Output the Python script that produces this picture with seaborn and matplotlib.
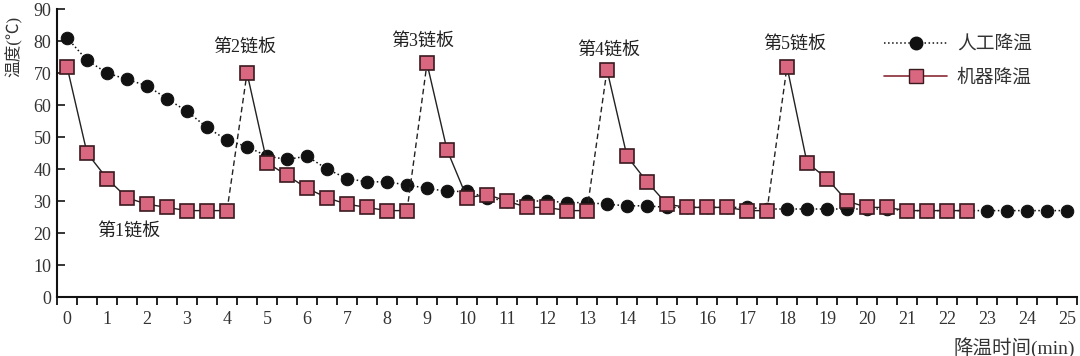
import numpy as np
import pandas as pd
import matplotlib
matplotlib.use("Agg")
import matplotlib.pyplot as plt
from matplotlib.lines import Line2D
import seaborn as sns

# time axis: every 0.5 min from 0 to 25
time = [i * 0.5 for i in range(51)]

manual = [81, 74, 70, 68, 66, 62, 58, 53, 49, 47,
          44, 43, 44, 40, 37, 36, 36, 35, 34, 33,
          33, 31, 30, 30, 30, 29.5, 29.5, 29, 28.5, 28.5,
          28, 28, 28, 28, 28, 27.5, 27.5, 27.5, 27.5, 27.5,
          27.5, 27.5, 27, 27, 27, 27, 27, 27, 27, 27, 27]

# machine cooling, one list per chain board
board_time = [
    [0, 0.5, 1, 1.5, 2, 2.5, 3, 3.5, 4],
    [4.5, 5, 5.5, 6, 6.5, 7, 7.5, 8, 8.5],
    [9, 9.5, 10, 10.5, 11, 11.5, 12, 12.5, 13],
    [13.5, 14, 14.5, 15, 15.5, 16, 16.5, 17, 17.5],
    [18, 18.5, 19, 19.5, 20, 20.5, 21, 21.5, 22, 22.5],
]
board_temp = [
    [72, 45, 37, 31, 29, 28, 27, 27, 27],
    [70, 42, 38, 34, 31, 29, 28, 27, 27],
    [73, 46, 31, 32, 30, 28, 28, 27, 27],
    [71, 44, 36, 29, 28, 28, 28, 27, 27],
    [72, 42, 37, 30, 28, 28, 27, 27, 27, 27],
]
board_labels = ["第1链板", "第2链板", "第3链板", "第4链板", "第5链板"]
label_pos = [(1.55, 20.5), (4.45, 78), (8.9, 80), (13.55, 77), (18.2, 79)]

xtick_labels = [str(i) for i in range(26)]

df_manual = pd.DataFrame({"t": time, "T": manual})
df_machine = pd.DataFrame({
    "t": sum(board_time, []),
    "T": sum(board_temp, []),
    "board": sum([[i] * len(b) for i, b in enumerate(board_time)], []),
})

sns.set_theme(style="ticks")
plt.rcParams["font.family"] = ["Liberation Serif", "Noto Sans CJK SC"]
plt.rcParams["axes.unicode_minus"] = False

fig = plt.figure(figsize=(10.8, 3.56), dpi=100)
ax = fig.add_axes([0.0528, 0.1657, 0.9444, 0.809])

sns.lineplot(data=df_manual, x="t", y="T", ax=ax, color="#111111",
             linestyle=":", linewidth=1.1, marker="o", markersize=9,
             markeredgecolor="#111111", markerfacecolor="#111111", zorder=2)

# dashed jumps between chain boards
for i in range(len(board_time) - 1):
    ax.plot([board_time[i][-1], board_time[i + 1][0]],
            [board_temp[i][-1], board_temp[i + 1][0]],
            color="#222222", linestyle=(0, (4, 2.5)), linewidth=1.0, zorder=3)

sns.lineplot(data=df_machine, x="t", y="T", units="board", estimator=None,
             ax=ax, color="#222222", linewidth=1.0, marker="s", markersize=10,
             markerfacecolor="#d9677f", markeredgecolor="#3a1a1f",
             markeredgewidth=1.2, zorder=4)

for lab, (x, y) in zip(board_labels, label_pos):
    ax.text(x, y, lab, ha="center", va="center", fontsize=13, color="#222222")

ax.set_xlim(-0.25, 25.25)
ax.set_ylim(0, 90)
ax.set_yticks(range(0, 91, 10))
ax.set_xticks(range(26))
ax.set_xticklabels(xtick_labels)
ax.set_xticks(np.arange(-0.25, 25.3, 0.5), minor=True)
ax.tick_params(axis="x", which="major", length=0, pad=10, labelsize=13,
               labelcolor="#333333")
ax.tick_params(axis="x", which="minor", length=6, width=1.3, direction="out",
               color="#111111")
ax.tick_params(axis="y", length=6, width=1.3, direction="in", labelsize=13,
               labelcolor="#333333", pad=4)
sns.despine(ax=ax)
for s in ["left", "bottom"]:
    ax.spines[s].set_linewidth(1.5)
    ax.spines[s].set_color("#111111")

ax.set_ylabel("温度(℃)", fontsize=12, color="#333333")
ax.yaxis.set_label_coords(-0.034, 0.87)
ax.set_xlabel("降温时间(min)", fontsize=14, color="#333333")
ax.xaxis.set_label_coords(0.998, -0.14)
ax.xaxis.label.set_horizontalalignment("right")

handles = [
    Line2D([], [], color="#111111", linestyle=":", linewidth=1.1, marker="o",
           markersize=9, markerfacecolor="#111111"),
    Line2D([], [], color="#8a2a35", linestyle="-", linewidth=1.2, marker="s",
           markersize=10, markerfacecolor="#d9677f", markeredgecolor="#3a1a1f"),
]
ax.legend(handles, ["人工降温", "机器降温"], loc="upper left",
          bbox_to_anchor=(0.794, 0.965), frameon=False, fontsize=13.5,
          handlelength=3.4, labelspacing=0.85, handletextpad=0.5,
          labelcolor="#333333")

fig.savefig("out.png", dpi=100)
